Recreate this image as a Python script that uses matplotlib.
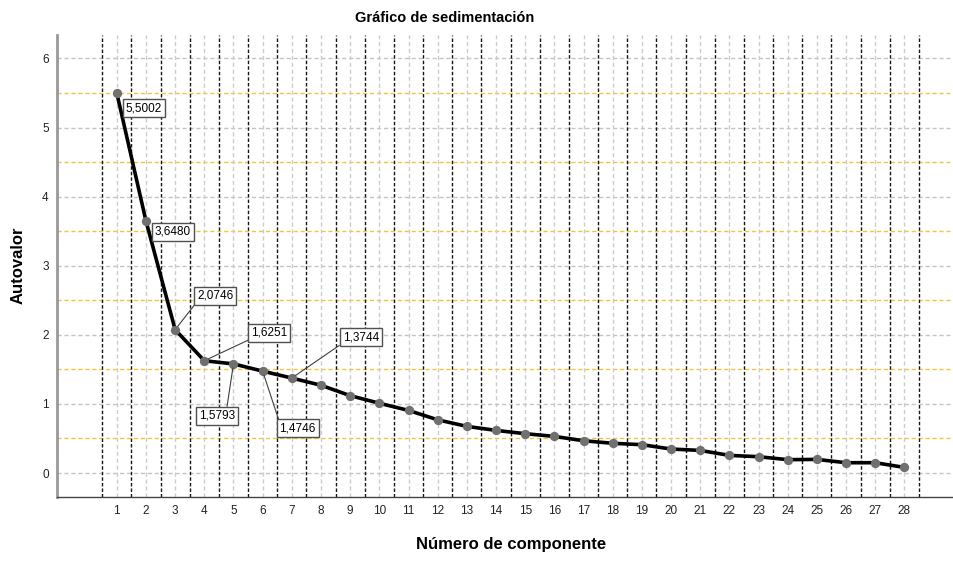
import matplotlib.pyplot as plt

plt.rcParams['font.family'] = ['Liberation Sans', 'DejaVu Sans']

# Datos del gráfico de sedimentación
componentes = list(range(1, 29))
autovalores = [5.5002, 3.6480, 2.0746, 1.6251, 1.5793, 1.4746, 1.3744,
               1.27, 1.12, 1.01, 0.906, 0.77, 0.675, 0.617, 0.569, 0.53,
               0.467, 0.43, 0.41, 0.347, 0.327, 0.255, 0.236, 0.193,
               0.197, 0.149, 0.149, 0.081]
etiquetados = [1, 2, 3, 4, 5, 6, 7]
# desplazamiento de cada etiqueta (pixeles) y punto de anclaje de la guia
desplaz = {1: (27, -15, None), 2: (27, -11, None), 3: (40, 34, (0, 0)),
           4: (65, 28, (0, 0)), 5: (-16, -52, (0.75, 1)),
           6: (35, -57, (0, 1)), 7: (69, 41, (0, 0))}

fig = plt.figure(figsize=(9.54, 5.72), dpi=100)
ax = fig.add_axes([57 / 954, 75.5 / 572, 1 - 57 / 954, 461.5 / 572])

ax.set_xlim(-1.05, 29.7)
ax.set_ylim(-0.34, 6.34)

# rejilla
for i in range(7):
    ax.axhline(i, color='#c4c4c4', lw=1, ls=(0, (3, 2)), zorder=1)
for i in range(6):
    ax.axhline(i + 0.5, color='#f0c63a', lw=1, ls=(0, (3, 2)), zorder=1)
for c in componentes:
    ax.axvline(c, color='#cccccc', lw=1, ls=(0, (3, 2)), zorder=1)
for c in componentes + [29]:
    ax.axvline(c - 0.5, color='#151515', lw=1, ls=(0, (2.5, 1.5)), zorder=1)

ax.plot(componentes, autovalores, color='black', lw=2.6, zorder=3)
ax.scatter(componentes, autovalores, s=45, color='#707070', zorder=4,
           linewidths=0)

for c in etiquetados:
    v = autovalores[c - 1]
    dx, dy, ancla = desplaz[c]
    texto = '{:.4f}'.format(v).replace('.', ',')
    props = None
    if ancla is not None:
        props = dict(arrowstyle='-', color='#404040', lw=0.8, relpos=ancla,
                     shrinkA=0, shrinkB=3)
    ax.annotate(texto, (c, v), xytext=(dx, dy), textcoords='offset pixels',
                ha='center', va='center', fontsize=8.5, zorder=5,
                bbox=dict(boxstyle='square,pad=0.25', fc='white',
                          ec='#505050', lw=1),
                arrowprops=props)

ax.set_xticks(componentes)
ax.set_yticks(range(7))
ax.tick_params(length=0, labelsize=8.5, colors='#222222', pad=6)
for s in ['top', 'right']:
    ax.spines[s].set_visible(False)
ax.spines['left'].set_color('#999999')
ax.spines['left'].set_linewidth(2)
ax.spines['bottom'].set_color('#444444')
ax.spines['bottom'].set_linewidth(1)

fig.text(445 / 954, 1 - 18 / 572, 'Gráfico de sedimentación',
         ha='center', va='center', fontsize=10.5, fontweight='bold')
fig.text(511 / 954, 1 - 545 / 572, 'Número de componente',
         ha='center', va='center', fontsize=12, fontweight='bold')
fig.text(18 / 954, 1 - 265 / 572, 'Autovalor', rotation=90,
         ha='center', va='center', fontsize=12, fontweight='bold')

fig.savefig('out.png', dpi=100)
